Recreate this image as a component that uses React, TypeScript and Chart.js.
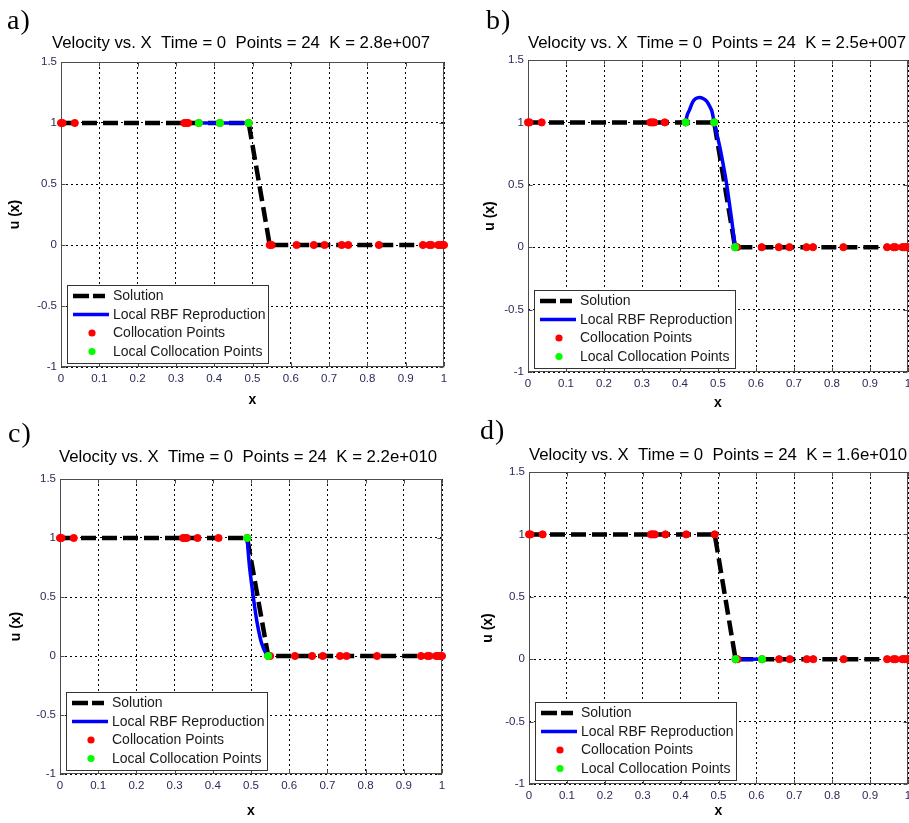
import React, { useEffect, useRef } from 'react';
import { Chart, registerables } from 'chart.js';

Chart.register(...registerables);

// ---------------- data ----------------
const seriesLabels = ['Solution', 'Local RBF Reproduction', 'Collocation Points', 'Local Collocation Points'];

const collocationX = [0, 0.004, 0.036, 0.322, 0.327, 0.332, 0.36, 0.415, 0.49, 0.545, 0.55, 0.615, 0.66, 0.688, 0.733, 0.75, 0.83, 0.945, 0.962, 0.967, 0.985, 0.99, 0.996, 1.0];
const collocationY = [1, 1, 1, 1, 1, 1, 1, 1, 1, 0, 0, 0, 0, 0, 0, 0, 0, 0, 0, 0, 0, 0, 0, 0];

const solutionX = [0, 0.49, 0.545, 1];
const solutionY = [1, 1, 0, 0];

const rbfAX = [0.36, 0.415, 0.49];
const rbfAY = [1, 1, 1];
const localAX = [0.36, 0.415, 0.49];
const localAY = [1, 1, 1];

const rbfBX = [0.415, 0.419, 0.425, 0.433, 0.441, 0.451, 0.462, 0.47, 0.478, 0.484, 0.49, 0.505, 0.515, 0.523, 0.53, 0.536, 0.545];
const rbfBY = [1.0, 1.06, 1.1, 1.16, 1.19, 1.2, 1.19, 1.17, 1.13, 1.09, 1.0, 0.8, 0.64, 0.5, 0.35, 0.22, 0];
const localBX = [0.415, 0.49, 0.545];
const localBY = [1, 1, 0];

const rbfCX = [0.49, 0.493, 0.497, 0.502, 0.506, 0.515, 0.525, 0.531, 0.537, 0.545];
const rbfCY = [1, 0.87, 0.73, 0.6, 0.5, 0.3, 0.14, 0.08, 0.035, 0];
const localCX = [0.49, 0.545];
const localCY = [1, 0];

const rbfDX = [0.545, 0.615];
const rbfDY = [0, 0];
const localDX = [0.545, 0.615];
const localDY = [0, 0];

const xTickValues = [0, 0.1, 0.2, 0.3, 0.4, 0.5, 0.6, 0.7, 0.8, 0.9, 1];
const xTickLabels = ['0', '0.1', '0.2', '0.3', '0.4', '0.5', '0.6', '0.7', '0.8', '0.9', '1'];
const yTickValues = [-1, -0.5, 0, 0.5, 1, 1.5];
const yTickLabels = ['-1', '-0.5', '0', '0.5', '1', '1.5'];

const panelLetters = ['a)', 'b)', 'c)', 'd)'];
const panelTitles = [
  'Velocity vs. X  Time = 0  Points = 24  K = 2.8e+007',
  'Velocity vs. X  Time = 0  Points = 24  K = 2.5e+007',
  'Velocity vs. X  Time = 0  Points = 24  K = 2.2e+010',
  'Velocity vs. X  Time = 0  Points = 24  K = 1.6e+010',
];
const xAxisLabel = 'x';
const yAxisLabel = 'u (x)';

// ---------------- layout (page coordinates) ----------------
const layouts = [
  { canvasLeft: 0, canvasTop: 20, canvasW: 470, canvasH: 395, area: { l: 61, t: 62, r: 444, b: 367 }, titleX: 241, titleY: 43, ylabelX: 15, xlabelY: 400.5, letterLeft: 7, letterTop: 6, rbfTension: 0 },
  { canvasLeft: 470, canvasTop: 20, canvasW: 460, canvasH: 395, area: { l: 528, t: 60, r: 908, b: 372 }, titleX: 717, titleY: 43, ylabelX: 490, xlabelY: 403, letterLeft: 486, letterTop: 6, rbfTension: 0.3 },
  { canvasLeft: 0, canvasTop: 430, canvasW: 470, canvasH: 393, area: { l: 60, t: 479, r: 442, b: 774 }, titleX: 248, titleY: 457, ylabelX: 16, xlabelY: 811, letterLeft: 8, letterTop: 419, rbfTension: 0.3 },
  { canvasLeft: 470, canvasTop: 430, canvasW: 460, canvasH: 393, area: { l: 529, t: 472, r: 908, b: 784 }, titleX: 718, titleY: 455, ylabelX: 488, xlabelY: 811, letterLeft: 480, letterTop: 416, rbfTension: 0 },
];

const panelSeries = [
  { rbfX: rbfAX, rbfY: rbfAY, localX: localAX, localY: localAY },
  { rbfX: rbfBX, rbfY: rbfBY, localX: localBX, localY: localBY },
  { rbfX: rbfCX, rbfY: rbfCY, localX: localCX, localY: localCY },
  { rbfX: rbfDX, rbfY: rbfDY, localX: localDX, localY: localDY },
];

const FONT = "'Liberation Sans', Arial, sans-serif";
const BOX = '#4d4d4d';
const SOL_DASH = [15, 6];
const TITLE_SIZE = 16.8;

const toPts = (xs: number[], ys: number[]) => xs.map((x, i) => ({ x, y: ys[i] }));

const framePlugin = {
  id: 'matlabFrame',
  beforeDatasetsDraw(chart: any) {
    const { ctx, chartArea } = chart;
    const l = Math.round(chartArea.left) + 0.5;
    const t = Math.round(chartArea.top) + 0.5;
    const r = Math.round(chartArea.right) - 0.5;
    const b = Math.round(chartArea.bottom) - 0.5;
    ctx.save();
    ctx.setLineDash([]);
    ctx.strokeStyle = BOX;
    ctx.lineWidth = 1;
    ctx.strokeRect(l, t, r - l, b - t);
    ctx.beginPath();
    const xs = chart.scales.x;
    const ys = chart.scales.y;
    xTickValues.forEach((v) => {
      const px = Math.round(xs.getPixelForValue(v)) + 0.5;
      ctx.moveTo(px, b); ctx.lineTo(px, b - 4);
      ctx.moveTo(px, t); ctx.lineTo(px, t + 4);
    });
    yTickValues.forEach((v) => {
      const py = Math.round(ys.getPixelForValue(v)) + 0.5;
      ctx.moveTo(l, py); ctx.lineTo(l + 4, py);
      ctx.moveTo(r, py); ctx.lineTo(r - 4, py);
    });
    ctx.stroke();
    ctx.restore();
  },
  afterDraw(chart: any, _args: any, opts: any) {
    const { ctx, chartArea } = chart;
    ctx.save();
    // title
    ctx.font = `${TITLE_SIZE}px ${FONT}`;
    ctx.fillStyle = '#000';
    ctx.textAlign = 'center';
    ctx.textBaseline = 'middle';
    ctx.fillText(opts.title, opts.tx, opts.ty);

    // legend
    const lw = 201, lh = 78;
    const lx = Math.round(chartArea.left) + 6;
    const ly = Math.round(chartArea.bottom) - 4 - lh;
    ctx.fillStyle = '#fff';
    ctx.fillRect(lx, ly, lw, lh);
    ctx.strokeStyle = '#333';
    ctx.lineWidth = 1;
    ctx.setLineDash([]);
    ctx.strokeRect(lx + 0.5, ly + 0.5, lw, lh);
    const rows = [11, 29.5, 48, 66.5];
    const dsets = chart.data.datasets;
    ctx.font = `14px ${FONT}`;
    ctx.textBaseline = 'middle';
    ctx.textAlign = 'left';
    dsets.forEach((ds: any, i: number) => {
      const y = ly + rows[i];
      if (i === 0) {
        ctx.beginPath();
        ctx.setLineDash([16, 4]);
        ctx.strokeStyle = '#000';
        ctx.lineWidth = 4.5;
        ctx.lineCap = 'butt';
        ctx.moveTo(lx + 6, y); ctx.lineTo(lx + 38, y);
        ctx.stroke();
        ctx.setLineDash([]);
      } else if (i === 1) {
        ctx.beginPath();
        ctx.strokeStyle = '#0000ff';
        ctx.lineWidth = 3.5;
        ctx.moveTo(lx + 6, y); ctx.lineTo(lx + 42, y);
        ctx.stroke();
      } else {
        ctx.beginPath();
        ctx.fillStyle = ds.backgroundColor;
        ctx.arc(lx + 25, y, 3.6, 0, Math.PI * 2);
        ctx.fill();
      }
      ctx.fillStyle = '#1a1a1a';
      ctx.fillText(ds.label, lx + 46, y + 0.5);
    });
    ctx.restore();
  },
};

function Panel({ idx }: { idx: number }) {
  const ref = useRef<HTMLCanvasElement>(null);
  const L = layouts[idx];
  useEffect(() => {
    const S = panelSeries[idx];
    const labelSize = 14, labelLH = labelSize * 1.2;
    const padT = L.area.t - L.canvasTop;
    const padL = L.ylabelX - L.canvasLeft - labelLH / 2;
    const yWidth = L.area.l - L.canvasLeft - padL;
    const padR = L.canvasLeft + L.canvasW - L.area.r;
    const xBottom = L.xlabelY - L.canvasTop + labelLH / 2;
    const xHeight = xBottom - (L.area.b - L.canvasTop);
    const padB = L.canvasH - xBottom;

    const tickFont = { family: FONT, size: 11.5 };
    const chart = new Chart(ref.current as HTMLCanvasElement, {
      type: 'scatter',
      data: {
        datasets: [
          {
            label: seriesLabels[0],
            data: toPts(solutionX, solutionY),
            showLine: true,
            borderColor: '#000',
            backgroundColor: '#000',
            borderWidth: 4.5,
            borderDash: SOL_DASH,
            borderCapStyle: 'butt',
            pointRadius: 0,
            order: 4,
          },
          {
            label: seriesLabels[1],
            data: toPts(S.rbfX, S.rbfY),
            showLine: true,
            borderColor: '#0000ff',
            backgroundColor: '#0000ff',
            borderWidth: 3.5,
            tension: L.rbfTension,
            pointRadius: 0,
            order: 3,
          },
          {
            label: seriesLabels[2],
            data: toPts(collocationX, collocationY),
            showLine: false,
            backgroundColor: '#ff0000',
            borderColor: '#ff0000',
            borderWidth: 1,
            pointRadius: 3.6,
            clip: false,
            order: 2,
          },
          {
            label: seriesLabels[3],
            data: toPts(S.localX, S.localY),
            showLine: false,
            backgroundColor: '#00ff00',
            borderColor: '#00ff00',
            borderWidth: 1,
            pointRadius: 3.6,
            clip: false,
            order: 1,
          },
        ],
      } as any,
      options: {
        animation: false,
        responsive: false,
        maintainAspectRatio: false,
        events: [],
        layout: { padding: { left: padL, right: padR, top: padT, bottom: padB } },
        plugins: {
          legend: { display: false },
          tooltip: { enabled: false },
          title: { display: false },
          matlabFrame: {
            title: panelTitles[idx],
            tx: L.titleX - L.canvasLeft,
            ty: L.titleY - L.canvasTop,
          },
        },
        scales: {
          x: {
            type: 'linear',
            min: 0,
            max: 1,
            afterBuildTicks: (s: any) => { s.ticks = xTickValues.map((v) => ({ value: v })); },
            afterFit: (s: any) => { s.height = xHeight; },
            ticks: {
              autoSkip: false,
              maxRotation: 0,
              padding: 5,
              color: '#2a2a5a',
              font: tickFont,
              callback: (_v: any, i: number) => xTickLabels[i],
            },
            grid: { color: '#000', lineWidth: 1, drawTicks: false },
            border: { display: false, dash: [2, 3] },
            title: {
              display: true,
              text: xAxisLabel,
              color: '#000',
              font: { family: FONT, size: labelSize, weight: 'bold', lineHeight: 1.2 },
              padding: 0,
            },
          },
          y: {
            type: 'linear',
            min: -1,
            max: 1.5,
            afterBuildTicks: (s: any) => { s.ticks = yTickValues.map((v) => ({ value: v })); },
            afterFit: (s: any) => { s.width = yWidth; },
            ticks: {
              autoSkip: false,
              padding: 4,
              color: '#2a2a5a',
              font: tickFont,
              callback: (_v: any, i: number) => yTickLabels[i],
            },
            grid: { color: '#000', lineWidth: 1, drawTicks: false },
            border: { display: false, dash: [2, 3] },
            title: {
              display: true,
              text: yAxisLabel,
              color: '#000',
              font: { family: FONT, size: labelSize, weight: 'bold', lineHeight: 1.2 },
              padding: 0,
            },
          },
        },
      } as any,
      plugins: [framePlugin],
    });
    return () => chart.destroy();
  }, []);
  return (
    <>
      <canvas
        ref={ref}
        width={L.canvasW}
        height={L.canvasH}
        style={{ position: 'absolute', left: L.canvasLeft, top: L.canvasTop, width: L.canvasW, height: L.canvasH }}
      />
      <div
        style={{
          position: 'absolute',
          left: L.letterLeft,
          top: L.letterTop,
          fontFamily: "'Liberation Serif', 'DejaVu Serif', serif",
          fontSize: 28,
          lineHeight: '28px',
          color: '#000',
          letterSpacing: 1,
        }}
      >
        {panelLetters[idx]}
      </div>
    </>
  );
}

export default function App() {
  return (
    <div
      style={{
        position: 'absolute',
        left: 0,
        top: 0,
        width: 909,
        height: 823,
        overflow: 'hidden',
        background: '#fff',
      }}
    >
      {[0, 1, 2, 3].map((i) => (
        <Panel key={i} idx={i} />
      ))}
    </div>
  );
}
